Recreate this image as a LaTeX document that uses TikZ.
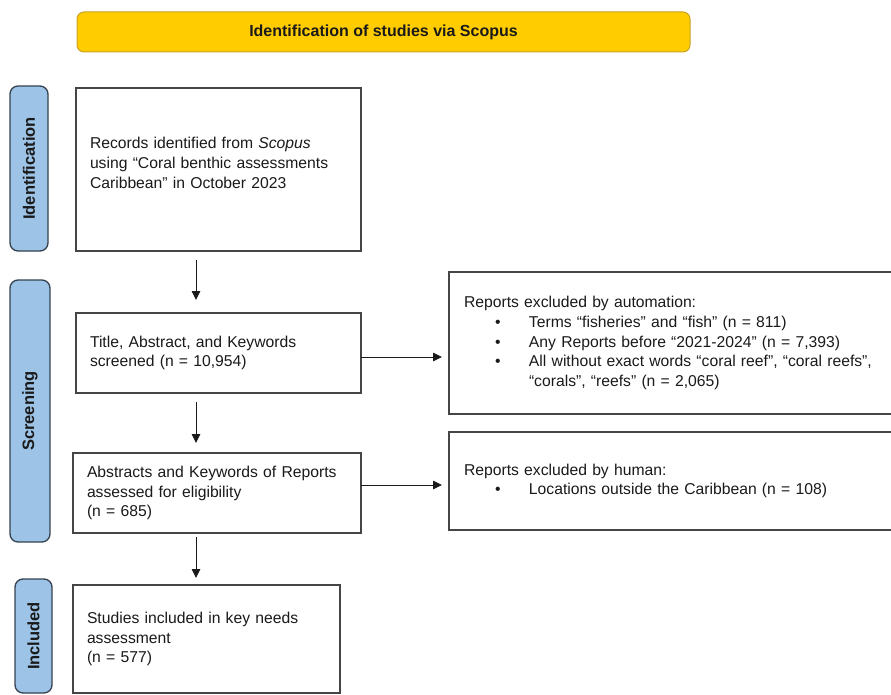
\documentclass[tikz,border=0pt]{standalone}
\usepackage{fontspec}
\setmainfont{Liberation Sans}
\usepackage{xcolor}
\usetikzlibrary{arrows.meta,positioning,calc}
\definecolor{Ink}{HTML}{1A1A1A}
\definecolor{FrameGrey}{HTML}{454545}
\definecolor{HeadGold}{HTML}{FFCC00}
\definecolor{HeadEdge}{HTML}{C9A227}
\definecolor{PhaseBlue}{HTML}{9DC3E6}
\definecolor{PhaseEdge}{HTML}{34414F}

\begin{document}
\begin{tikzpicture}[x=1pt,y=-1pt]
  \clip (0,0) rectangle (891,695);

  \tikzset{
    prBox/.style={
      draw=FrameGrey,
      fill=white,
      line width=1.4pt,
      inner xsep=14pt,
      inner ysep=0pt,
      outer sep=0pt,
      align=left,
      text=Ink,
      font=\fontsize{15.7}{19.8}\selectfont
    },
    prPhase/.style={
      draw=PhaseEdge,
      fill=PhaseBlue,
      line width=1.3pt,
      rounded corners=8pt,
      rotate=90,
      inner sep=0pt,
      outer sep=0pt,
      text=Ink,
      font=\fontsize{16.5}{18}\selectfont\bfseries
    },
    prHead/.style={
      draw=HeadEdge,
      fill=HeadGold,
      line width=1pt,
      rounded corners=7pt,
      inner sep=0pt,
      text=Ink,
      font=\fontsize{16}{18}\selectfont\bfseries
    },
    prFlow/.style={
      -{Triangle[length=9pt,width=8.5pt]},
      draw=Ink,
      line width=.9pt
    }
  }

  % titre et phases
  \node[prHead,minimum width=613pt,minimum height=40pt] (head) at (383.5,32)
    {Identification of studies via Scopus};
  \node[prPhase,minimum width=165pt,minimum height=38pt] (identph) at (29,168.5)
    {Identification};
  \node[prPhase,minimum width=262pt,minimum height=40pt] (screenph) at (30,411)
    {Screening};
  \node[prPhase,minimum width=114pt,minimum height=37pt] (inclph) at (33.5,636)
    {Included};

  % colonne principale
  \node[prBox,text width=257pt,minimum height=163pt] (records) at (218.5,169.5)
    {Records identified from \textit{Scopus}\\
     using “Coral benthic assessments\\
     Caribbean” in October 2023\\[-6pt]\mbox{}};
  \node[prBox,text width=257pt,minimum height=80pt] (screened) at (218.5,353)
    {Title, Abstract, and Keywords\\
     screened (n = 10,954)};
  \node[prBox,text width=260pt,minimum height=80pt] (eligible) at (217,493)
    {Abstracts and Keywords of Reports\\
     assessed for eligibility\\
     (n = 685)};
  \node[prBox,text width=239pt,minimum height=108pt] (included) at (206.5,639)
    {Studies included in key needs\\
     assessment\\
     (n = 577)};

  % exclusions
  \node[prBox,inner xsep=15pt,text width=416pt,minimum height=142pt] (autoexcl) at (672,343)
    {Reports excluded by automation:\\
     \hspace*{31pt}\makebox[34pt][l]{\textbullet}Terms “fisheries” and “fish” (n = 811)\\
     \hspace*{31pt}\makebox[34pt][l]{\textbullet}Any Reports before “2021-2024” (n = 7,393)\\
     \hspace*{31pt}\makebox[34pt][l]{\textbullet}All without exact words “coral reef”, “coral reefs”,\\
     \hspace*{65pt}“corals”, “reefs” (n = 2,065)};
  \node[prBox,inner xsep=15pt,text width=416pt,minimum height=98pt] (humanexcl) at (672,481)
    {Reports excluded by human:\\
     \hspace*{31pt}\makebox[34pt][l]{\textbullet}Locations outside the Caribbean (n = 108)};

  \coordinate (spine) at (196,0);
  \draw[prFlow,shorten <=9pt,shorten >=13pt] (records.south -| spine) -- (screened.north -| spine);
  \draw[prFlow,shorten <=9pt,shorten >=10pt] (screened.south -| spine) -- (eligible.north -| spine);
  \draw[prFlow,shorten <=4pt,shorten >=7pt] (eligible.south -| spine) -- (included.north -| spine);
  \draw[prFlow,shorten >=7pt] ([yshift=-4pt]screened.east) -- ([yshift=-4pt]screened.east -| autoexcl.west);
  \draw[prFlow,shorten >=7pt] ([yshift=8pt]eligible.east) -- ([yshift=8pt]eligible.east -| humanexcl.west);
\end{tikzpicture}
\end{document}
